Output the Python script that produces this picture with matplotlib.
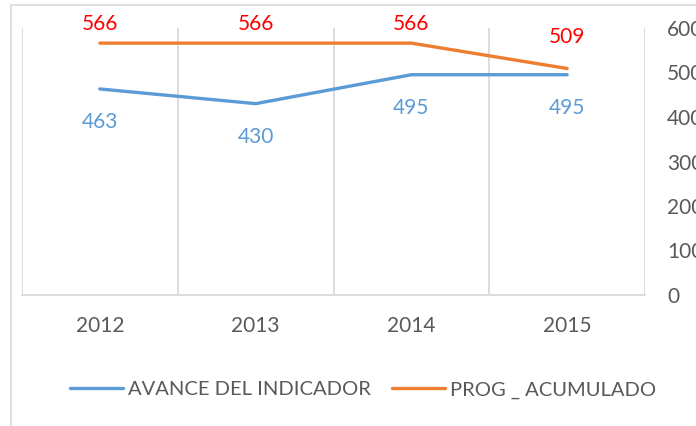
import matplotlib
matplotlib.use("Agg")
import matplotlib.pyplot as plt
from matplotlib.patches import Rectangle
import numpy as np

# datos
years = ["2012", "2013", "2014", "2015"]
avance = [463, 430, 495, 495]
prog_acum = [566, 566, 566, 509]
y_ticks = [0, 100, 200, 300, 400, 500, 600]

plt.rcParams["font.family"] = ["Lato", "DejaVu Sans"]

W, H = 696, 426
fig = plt.figure(figsize=(W / 100, H / 100), dpi=100)
ax = fig.add_axes([22 / W, 1 - 295 / H, (645 - 22) / W, (295 - 28) / H])

gray_txt = "#595959"
grid_col = "#D9D9D9"
blue = "#5B9BD5"
orange = "#ED7D31"
fs = 15

# borde exterior del grafico
fig.patches.append(Rectangle((11 / W, -0.1), 2, (H - 5) / H + 0.1,
                             transform=fig.transFigure, fill=False,
                             edgecolor=grid_col, linewidth=1.2))

x = np.arange(len(years))
ax.plot(x, avance, color=blue, linewidth=2.4, solid_capstyle="round",
        label="AVANCE DEL INDICADOR")
ax.plot(x, prog_acum, color=orange, linewidth=2.4, solid_capstyle="round",
        label="PROG _ ACUMULADO")

# etiquetas de datos
for xi, v in zip(x, avance):
    ax.text(xi, v - 74, f"{v}", color=blue, fontsize=fs,
            ha="center", va="center")
for xi, v in zip(x, prog_acum):
    ax.text(xi, min(v + 70, 609), f"{v}", color="#FF0000", fontsize=fs,
            ha="center", va="center", clip_on=False)

# ejes
ax.set_xlim(-0.5, len(years) - 0.5)
ax.set_ylim(0, 600)
ax.set_xticks(x)
ax.set_xticklabels(years)
ax.set_xticks(np.arange(len(years) + 1) - 0.5, minor=True)
ax.grid(axis="x", which="minor", color=grid_col, linewidth=1.3)
ax.set_yticks(y_ticks)
ax.yaxis.tick_right()
ax.tick_params(axis="x", which="both", length=0, pad=15, labelsize=fs,
               labelcolor=gray_txt)
ax.tick_params(axis="y", length=0, pad=16, labelsize=fs, labelcolor=gray_txt)
for lab in ax.get_yticklabels():
    lab.set_horizontalalignment("left")

for s in ["top", "left", "right"]:
    ax.spines[s].set_visible(False)
ax.spines["bottom"].set_color(grid_col)
ax.spines["bottom"].set_linewidth(1.3)

ax.legend(loc="center", bbox_to_anchor=(363 / W, 1 - 390 / H),
          bbox_transform=fig.transFigure, ncol=2, frameon=False,
          fontsize=14.5, labelcolor=gray_txt, handlelength=2.65,
          handletextpad=0.25, columnspacing=1.05)

fig.savefig("out.png", dpi=100)
